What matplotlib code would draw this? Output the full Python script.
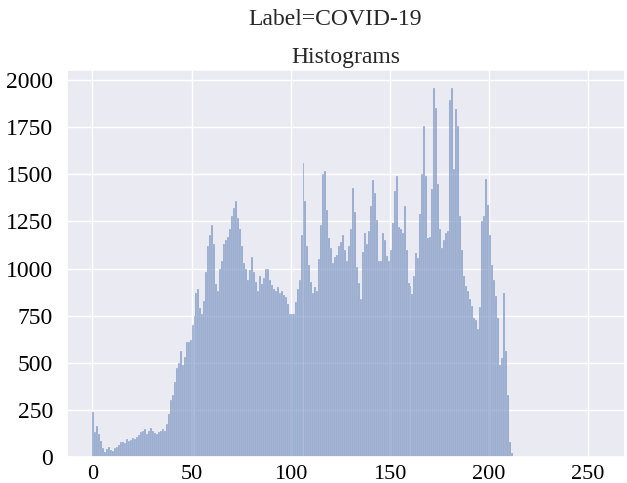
import matplotlib
matplotlib.use("Agg")
import matplotlib.pyplot as plt
import seaborn as sns
import numpy as np

sns.set_theme(style="darkgrid")
plt.rcParams['font.family'] = ['Liberation Serif', 'DejaVu Serif']

suptitle = "Label=COVID-19"
title = "Histograms"
pixel_values = list(range(256))
counts = [
    240, 130, 165, 120, 85, 45, 25, 40, 50, 35,
    30, 45, 50, 65, 80, 80, 75, 95, 85, 90,
    100, 95, 105, 115, 130, 140, 150, 120, 135, 155,
    140, 125, 120, 130, 135, 150, 140, 175, 230, 300,
    330, 400, 470, 500, 560, 490, 530, 610, 610, 620,
    700, 750, 870, 890, 790, 760, 830, 980, 1120, 1180,
    1230, 1130, 920, 880, 1000, 1040, 1130, 1150, 1170, 1210,
    1280, 1320, 1360, 1270, 1210, 1120, 1030, 1000, 940, 990,
    1060, 980, 930, 880, 960, 920, 950, 1000, 1000, 940,
    910, 890, 880, 900, 870, 880, 860, 850, 810, 760,
    760, 760, 820, 890, 940, 1180, 1560, 1360, 1120, 1020,
    930, 870, 900, 880, 1050, 1230, 1500, 1520, 1310, 1160,
    1110, 1030, 1060, 1070, 1120, 1140, 1180, 1100, 1040, 1120,
    1210, 1430, 1300, 1010, 925, 840, 1090, 1190, 1130, 1200,
    1330, 1470, 1400, 1260, 1040, 1040, 1190, 1150, 1065, 1040,
    1100, 1240, 1410, 1490, 1220, 1210, 1190, 1330, 1100, 925,
    905, 865, 960, 1080, 1055, 1290, 1500, 1755, 1490, 1160,
    1170, 1420, 1956, 1850, 1450, 1210, 1110, 1150, 1190, 1200,
    1895, 1956, 1530, 1845, 1755, 1280, 1100, 960, 905, 880,
    840, 800, 740, 725, 680, 795, 1250, 1280, 1475, 1335,
    1180, 1020, 940, 855, 740, 490, 525, 870, 560, 330,
    80, 20,
] + [0] * 44
xticks = [0, 50, 100, 150, 200, 250]
yticks = [0, 250, 500, 750, 1000, 1250, 1500, 1750, 2000]

fig = plt.figure(figsize=(6.27, 4.83), dpi=100)
ax = fig.add_axes([0.107, 0.054, 0.890, 0.801])
ax.bar(pixel_values, counts, width=1.0, align='edge', color='#4C72B0', alpha=0.55,
       edgecolor='#EAEAF2', linewidth=0.3)
ax.set_xlim(-12.8, 268.8)
ax.set_ylim(0, max(counts) * 1.05)
ax.set_xticks(xticks)
ax.set_yticks(yticks)
ax.tick_params(axis='y', labelsize=17, colors='black', pad=4)
ax.tick_params(axis='x', labelsize=16, colors='black', pad=0)
ax.set_title(title, fontsize=17, pad=5)
fig.suptitle(suptitle, fontsize=17, x=0.535, y=0.982)
fig.savefig("out.png", dpi=100)
